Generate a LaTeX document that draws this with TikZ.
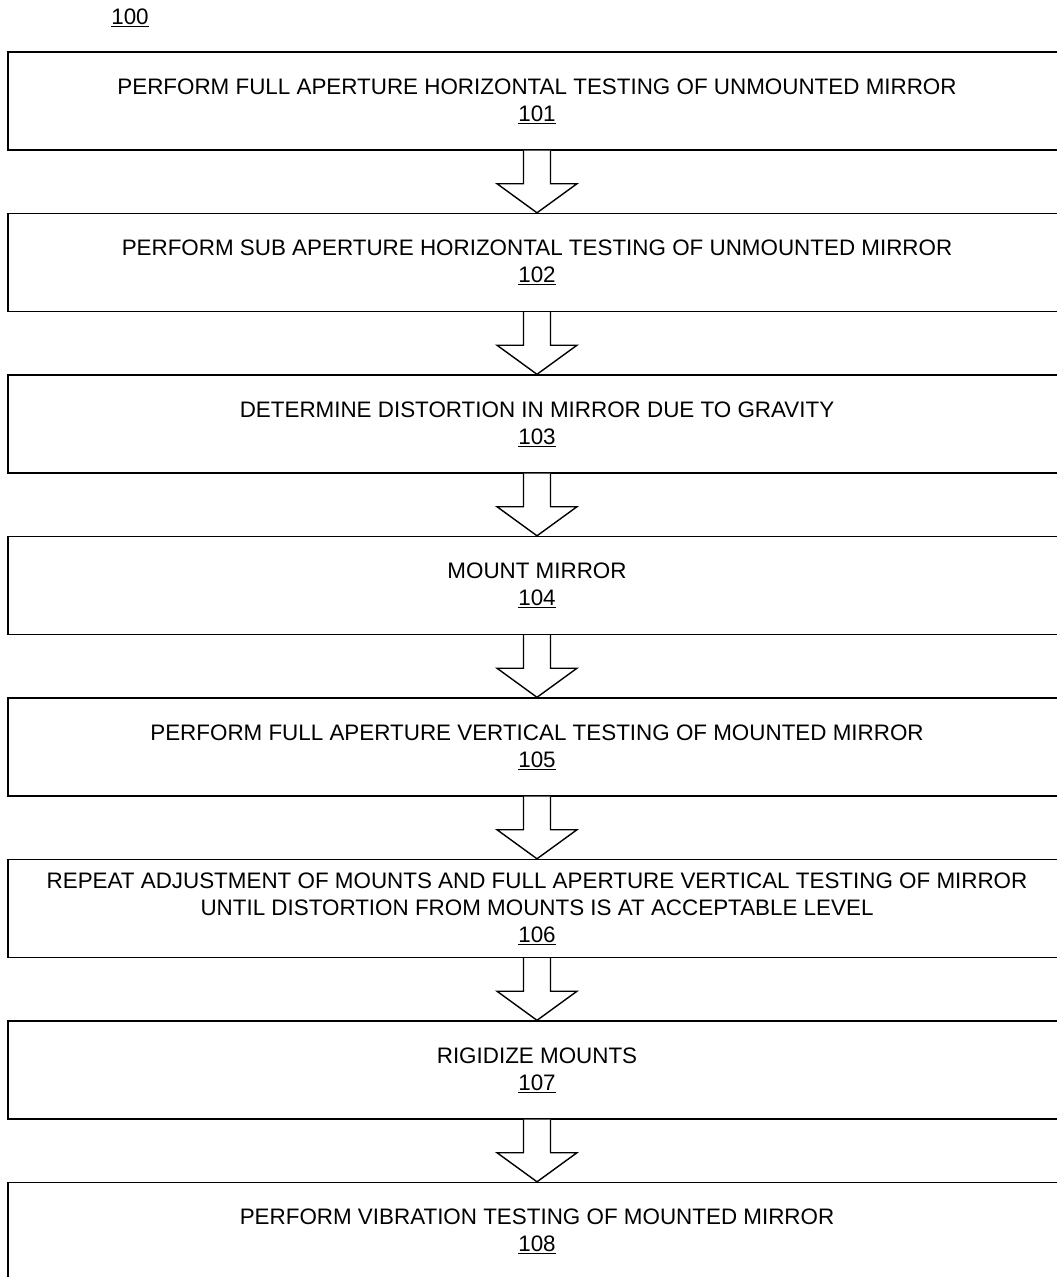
\documentclass[tikz,border=0pt]{standalone}
\usepackage{fontspec}
\setmainfont{Liberation Sans}

\begin{document}
\begin{tikzpicture}[x=1pt, y=-1pt]
	\tikzstyle{every node} = [font=\fontsize{22.4}{27}\selectfont]
	\tikzstyle{stepbox} = [draw, line width=1.4pt, rectangle, minimum width=1058pt, minimum height=98pt, align=center, inner sep=0pt]
	\tikzstyle{blockarrow} = [draw, line width=1.4pt, fill=white, line join=miter]
	\useasboundingbox (0,0) rectangle (1057,1277);
	\node (fig) at (130, 18) {\underline{100}};
	\node [stepbox] (s101) at (537, 101) {PERFORM FULL APERTURE HORIZONTAL TESTING OF UNMOUNTED MIRROR\\\underline{101}};
	\node [stepbox] (s102) at (537, 262.5) {PERFORM SUB APERTURE HORIZONTAL TESTING OF UNMOUNTED MIRROR\\\underline{102}};
	\node [stepbox] (s103) at (537, 424) {DETERMINE DISTORTION IN MIRROR DUE TO GRAVITY\\\underline{103}};
	\node [stepbox] (s104) at (537, 585.5) {MOUNT MIRROR\\\underline{104}};
	\node [stepbox] (s105) at (537, 747) {PERFORM FULL APERTURE VERTICAL TESTING OF MOUNTED MIRROR\\\underline{105}};
	\node [stepbox] (s106) at (537, 908.5) {REPEAT ADJUSTMENT OF MOUNTS AND FULL APERTURE VERTICAL TESTING OF MIRROR\\UNTIL DISTORTION FROM MOUNTS IS AT ACCEPTABLE LEVEL\\\underline{106}};
	\node [stepbox] (s107) at (537, 1070) {RIGIDIZE MOUNTS\\\underline{107}};
	\node [stepbox] (s108) at (537, 1231.5) {PERFORM VIBRATION TESTING OF MOUNTED MIRROR\\\underline{108}};
	\draw [blockarrow] ([xshift=-13.5pt]s101.south) -- ([xshift=-13.5pt, yshift=-33pt]s101.south) -- ([xshift=-40pt, yshift=-33pt]s101.south) -- (s102.north) -- ([xshift=40pt, yshift=-33pt]s101.south) -- ([xshift=13.5pt, yshift=-33pt]s101.south) -- ([xshift=13.5pt]s101.south);
	\draw [blockarrow] ([xshift=-13.5pt]s102.south) -- ([xshift=-13.5pt, yshift=-33pt]s102.south) -- ([xshift=-40pt, yshift=-33pt]s102.south) -- (s103.north) -- ([xshift=40pt, yshift=-33pt]s102.south) -- ([xshift=13.5pt, yshift=-33pt]s102.south) -- ([xshift=13.5pt]s102.south);
	\draw [blockarrow] ([xshift=-13.5pt]s103.south) -- ([xshift=-13.5pt, yshift=-33pt]s103.south) -- ([xshift=-40pt, yshift=-33pt]s103.south) -- (s104.north) -- ([xshift=40pt, yshift=-33pt]s103.south) -- ([xshift=13.5pt, yshift=-33pt]s103.south) -- ([xshift=13.5pt]s103.south);
	\draw [blockarrow] ([xshift=-13.5pt]s104.south) -- ([xshift=-13.5pt, yshift=-33pt]s104.south) -- ([xshift=-40pt, yshift=-33pt]s104.south) -- (s105.north) -- ([xshift=40pt, yshift=-33pt]s104.south) -- ([xshift=13.5pt, yshift=-33pt]s104.south) -- ([xshift=13.5pt]s104.south);
	\draw [blockarrow] ([xshift=-13.5pt]s105.south) -- ([xshift=-13.5pt, yshift=-33pt]s105.south) -- ([xshift=-40pt, yshift=-33pt]s105.south) -- (s106.north) -- ([xshift=40pt, yshift=-33pt]s105.south) -- ([xshift=13.5pt, yshift=-33pt]s105.south) -- ([xshift=13.5pt]s105.south);
	\draw [blockarrow] ([xshift=-13.5pt]s106.south) -- ([xshift=-13.5pt, yshift=-33pt]s106.south) -- ([xshift=-40pt, yshift=-33pt]s106.south) -- (s107.north) -- ([xshift=40pt, yshift=-33pt]s106.south) -- ([xshift=13.5pt, yshift=-33pt]s106.south) -- ([xshift=13.5pt]s106.south);
	\draw [blockarrow] ([xshift=-13.5pt]s107.south) -- ([xshift=-13.5pt, yshift=-33pt]s107.south) -- ([xshift=-40pt, yshift=-33pt]s107.south) -- (s108.north) -- ([xshift=40pt, yshift=-33pt]s107.south) -- ([xshift=13.5pt, yshift=-33pt]s107.south) -- ([xshift=13.5pt]s107.south);
\end{tikzpicture}
\end{document}
